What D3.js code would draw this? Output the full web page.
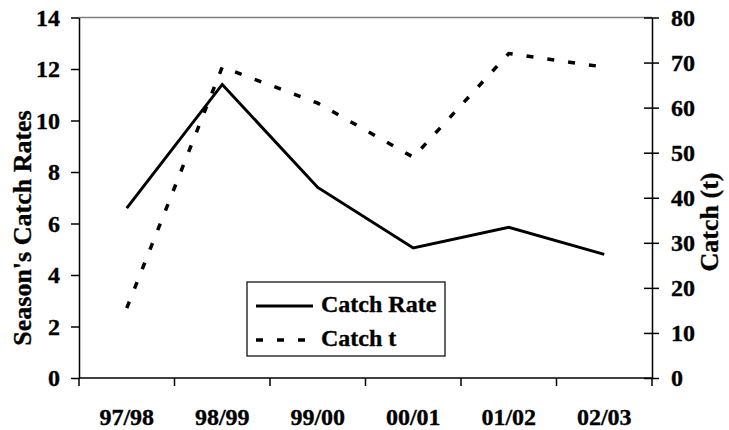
<!DOCTYPE html>
<html>
<head>
<meta charset="utf-8">
<script src="https://cdn.jsdelivr.net/npm/d3@7"></script>
<style>
  body { margin: 0; background: #fff; }
  text { font-family: "Liberation Serif", "Times New Roman", serif; font-weight: bold; fill: #000; stroke: #000; stroke-width: 0.35px; }
</style>
</head>
<body>
<div id="main"></div>
<script>
const seasons = ["97/98", "98/99", "99/00", "00/01", "01/02", "02/03"];
const catchRate = [6.6, 11.4, 7.4, 5.05, 5.85, 4.8];
const catchT = [15.5, 69, 61, 49, 72, 69];
const rateTicks = [0, 2, 4, 6, 8, 10, 12, 14];
const catchTicks = [0, 10, 20, 30, 40, 50, 60, 70, 80];

const cfg = { width: 729, height: 430, left: 79, right: 652, top: 17.5, bottom: 378, font: 24 };

const svg = d3.select("#main").append("svg")
  .attr("width", cfg.width)
  .attr("height", cfg.height);

const x = d3.scaleBand().domain(seasons).range([cfg.left, cfg.right]);
const yL = d3.scaleLinear().domain([0, 14]).range([cfg.bottom, cfg.top]);
const yR = d3.scaleLinear().domain([0, 80]).range([cfg.bottom, cfg.top]);

// top border
svg.append("line")
  .attr("x1", cfg.left).attr("x2", cfg.right)
  .attr("y1", cfg.top).attr("y2", cfg.top)
  .attr("stroke", "#808080").attr("stroke-width", 1.5);

// left axis
const gL = svg.append("g")
  .attr("transform", `translate(${cfg.left},0)`)
  .call(d3.axisLeft(yL).tickValues(rateTicks).tickSizeInner(8).tickSizeOuter(0).tickPadding(11));

// right axis, ticks crossing the line
const gR = svg.append("g")
  .attr("transform", `translate(${cfg.right},0)`)
  .call(d3.axisRight(yR).tickValues(catchTicks).tickSizeInner(7).tickSizeOuter(0).tickPadding(12));
gR.selectAll(".tick line").attr("x1", -8);

// bottom axis: labels at centres, ticks on boundaries
const gB = svg.append("g")
  .attr("transform", `translate(0,${cfg.bottom})`)
  .call(d3.axisBottom(x).tickSize(0).tickPadding(30));
gB.select(".domain").attr("d", `M${cfg.left},0H${cfg.right}`);
const bounds = seasons.map(s => x(s)).concat([x.range()[1]]);
gB.selectAll(".bound").data(bounds).join("line")
  .attr("class", "bound")
  .attr("x1", d => d).attr("x2", d => d)
  .attr("y1", 0).attr("y2", 8)
  .attr("stroke", "#000").attr("stroke-width", 1.5);

[gL, gR, gB].forEach(g => {
  g.selectAll(".domain").attr("stroke", "#000").attr("stroke-width", 1.5);
  g.selectAll(".tick line").attr("stroke", "#000").attr("stroke-width", 1.5);
  g.selectAll("text")
    .style("font-family", '"Liberation Serif", "Times New Roman", serif')
    .style("font-weight", "bold")
    .style("font-size", cfg.font + "px")
    .attr("fill", "#000");
});

// axis titles
svg.append("text")
  .attr("transform", "translate(25,228) rotate(-90)")
  .attr("text-anchor", "middle")
  .attr("dominant-baseline", "middle")
  .style("font-size", "26px")
  .text("Season's Catch Rates");

svg.append("text")
  .attr("transform", "translate(712,222) rotate(-90)")
  .attr("text-anchor", "middle")
  .attr("dominant-baseline", "middle")
  .style("font-size", "26px")
  .text("Catch (t)");

// lines
const cx = d => x(d) + x.bandwidth() / 2;
const rateLine = d3.line().x((d, i) => cx(seasons[i])).y(d => yL(d));
const catchLine = d3.line().x((d, i) => cx(seasons[i])).y(d => yR(d));

svg.append("path")
  .datum(catchRate)
  .attr("fill", "none").attr("stroke", "#000").attr("stroke-width", 3)
  .attr("stroke-linejoin", "miter")
  .attr("d", rateLine);

svg.append("path")
  .datum(catchT)
  .attr("fill", "none").attr("stroke", "#000").attr("stroke-width", 3.5)
  .attr("stroke-dasharray", "7,14")
  .attr("d", catchLine);

// legend
const lg = svg.append("g").attr("transform", "translate(247,282)");
lg.append("rect")
  .attr("width", 198).attr("height", 74)
  .attr("fill", "#fff").attr("stroke", "#000").attr("stroke-width", 1.2);
const items = [
  { name: "Catch Rate", dash: null, w: 3 },
  { name: "Catch t", dash: "7,14", w: 3.5 }
];
items.forEach((it, i) => {
  const yy = 24 + i * 34;
  lg.append("line")
    .attr("x1", 9).attr("x2", 66).attr("y1", yy).attr("y2", yy)
    .attr("stroke", "#000").attr("stroke-width", it.w)
    .attr("stroke-dasharray", it.dash);
  lg.append("text")
    .attr("x", 74).attr("y", yy)
    .attr("dominant-baseline", "middle")
    .style("font-size", cfg.font + "px")
    .text(it.name);
});
</script>
</body>
</html>
